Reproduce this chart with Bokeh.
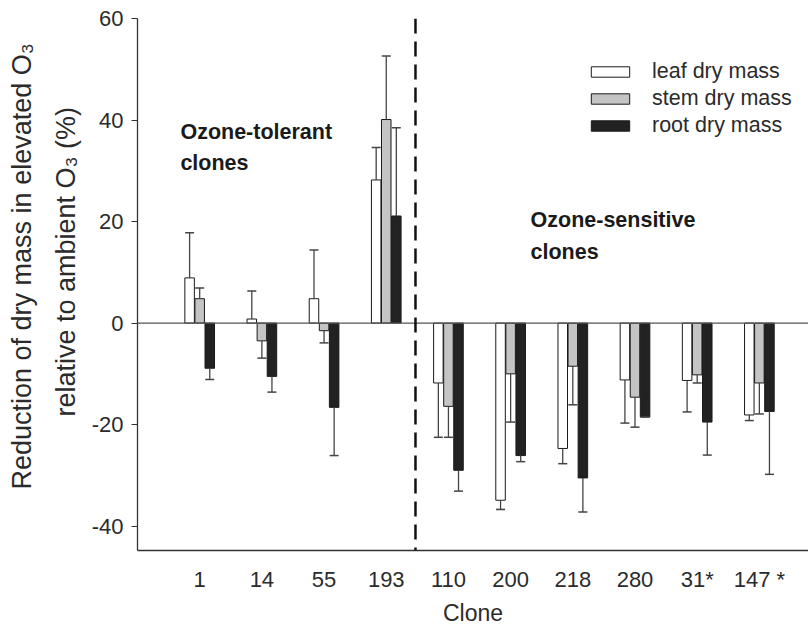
import numpy as np
from bokeh.plotting import figure
from bokeh.models import (ColumnDataSource, FixedTicker, Span, Legend, LegendItem,
                          Range1d, Label, Title)
from bokeh.embed import file_html
from bokeh.resources import INLINE

# ---- data ----
clones = ["1", "14", "55", "193", "110", "200", "218", "280", "31*", "147 *"]
leaf = [8.9, 0.8, 4.8, 28.2, -11.8, -34.9, -24.7, -11.2, -11.3, -18.1]
leaf_err = [8.9, 5.5, 9.6, 6.4, 10.7, 1.8, 3.0, 8.5, 6.2, 1.1]
stem = [4.8, -3.5, -1.5, 40.1, -16.4, -10.0, -8.5, -14.6, -10.2, -11.8]
stem_err = [2.1, 3.4, 2.4, 12.5, 6.1, 9.5, 7.6, 5.9, 1.6, 6.1]
root = [-8.9, -10.5, -16.6, 21.1, -29.0, -26.1, -30.5, -18.5, -19.5, -17.4]
root_err = [2.2, 3.1, 9.5, 17.4, 4.1, 1.2, 6.7, 0.0, 6.5, 12.4]
y_ticks = [-40, -20, 0, 20, 40, 60]
y_title = ["Reduction of dry mass in elevated O\u2083", "relative to ambient O\u2083 (%)"]

FONT = "Liberation Sans"
TXT = "#2b2b2b"

p = figure(width=808, height=628, output_backend="svg", toolbar_location=None,
           x_range=Range1d(-1.0, 9.79), y_range=Range1d(-44.8, 60),
           min_border_left=137, min_border_right=0, min_border_top=18,
           min_border_bottom=77)
p.outline_line_color = None
p.xgrid.visible = False
p.ygrid.visible = False
p.background_fill_color = "white"
p.border_fill_color = "white"

idx = np.arange(len(clones))
bw = 0.153
off = 0.162

series = [
    ("leaf dry mass", leaf, leaf_err, "white", -off),
    ("stem dry mass", stem, stem_err, "#c4c4c4", 0.0),
    ("root dry mass", root, root_err, "#222222", off),
]

renderers = []
for name, vals, errs, color, o in series:
    vals = np.array(vals, dtype=float)
    errs = np.array(errs, dtype=float)
    xs = idx + o
    tips = vals + np.sign(vals) * errs
    src = ColumnDataSource(dict(x=xs, top=vals, tip=tips))
    r = p.vbar(x="x", top="top", bottom=0, width=bw, source=src,
               fill_color=color, line_color="#1a1a1a", line_width=1)
    renderers.append((name, r))
    p.segment(x0="x", y0="top", x1="x", y1="tip", source=src,
              line_color="#444444", line_width=1.3)
    p.scatter(x="x", y="tip", source=src, marker="dash", size=9,
              line_color="#444444", line_width=1.5)

# zero line and separator
p.add_layout(Span(location=0, dimension="width", line_color="#555555", line_width=1.3))
p.add_layout(Span(location=3.47, dimension="height", line_color="#111111",
                  line_width=2.5, line_dash="15 8"))

# axes
p.xaxis.ticker = FixedTicker(ticks=list(range(len(clones))))
p.xaxis.major_label_overrides = {i: c for i, c in enumerate(clones)}
p.xaxis.major_tick_line_color = None
p.xaxis.minor_tick_line_color = None
p.xaxis.major_tick_out = 0
p.xaxis.major_tick_in = 0
p.xaxis.major_label_standoff = 16
p.xaxis.axis_label = "Clone"
p.xaxis.axis_label_standoff = 5

p.yaxis.ticker = FixedTicker(ticks=y_ticks)
p.yaxis.major_label_overrides = {t: str(t) for t in y_ticks}
p.yaxis.minor_tick_line_color = None
p.yaxis.major_tick_out = 6
p.yaxis.major_tick_in = 0
p.yaxis.major_label_standoff = 8

for ax in (p.xaxis[0], p.yaxis[0]):
    ax.axis_line_color = "#333333"
    ax.axis_line_width = 1.3
    ax.major_label_text_font = FONT
    ax.major_label_text_font_size = "22px"
    ax.major_label_text_color = TXT
    ax.axis_label_text_font = FONT
    ax.axis_label_text_font_size = "23px"
    ax.axis_label_text_font_style = "normal"
    ax.axis_label_text_color = TXT
p.yaxis.major_tick_line_color = "#333333"

# y-axis title: two rotated lines as left-side titles (inner line first)
for txt, offset, standoff in ((y_title[1], 134, 16), (y_title[0], 61, 8)):
    p.add_layout(Title(text=txt, align="left", offset=offset, standoff=standoff,
                       text_font=FONT, text_font_size="27px",
                       text_font_style="normal", text_color=TXT), "left")

# legend
legend = Legend(items=[LegendItem(label=n, renderers=[r]) for n, r in renderers],
                location=(449, 412), glyph_width=48, glyph_height=13,
                label_text_font=FONT, label_text_font_size="21.5px",
                label_text_color=TXT, label_standoff=18, label_height=21,
                spacing=2, padding=0, margin=0, border_line_color=None,
                background_fill_alpha=0)
p.add_layout(legend)

# annotations
for txt, x, y in [("Ozone-tolerant", -0.31, 37.6), ("clones", -0.31, 31.6),
                  ("Ozone-sensitive", 5.32, 20.3), ("clones", 5.32, 14.0)]:
    p.add_layout(Label(x=x, y=y, text=txt, text_font=FONT, text_font_size="21.5px",
                       text_font_style="bold", text_color="#1a1a1a",
                       text_baseline="alphabetic"))

open("out.html", "w").write(file_html(p, INLINE))
